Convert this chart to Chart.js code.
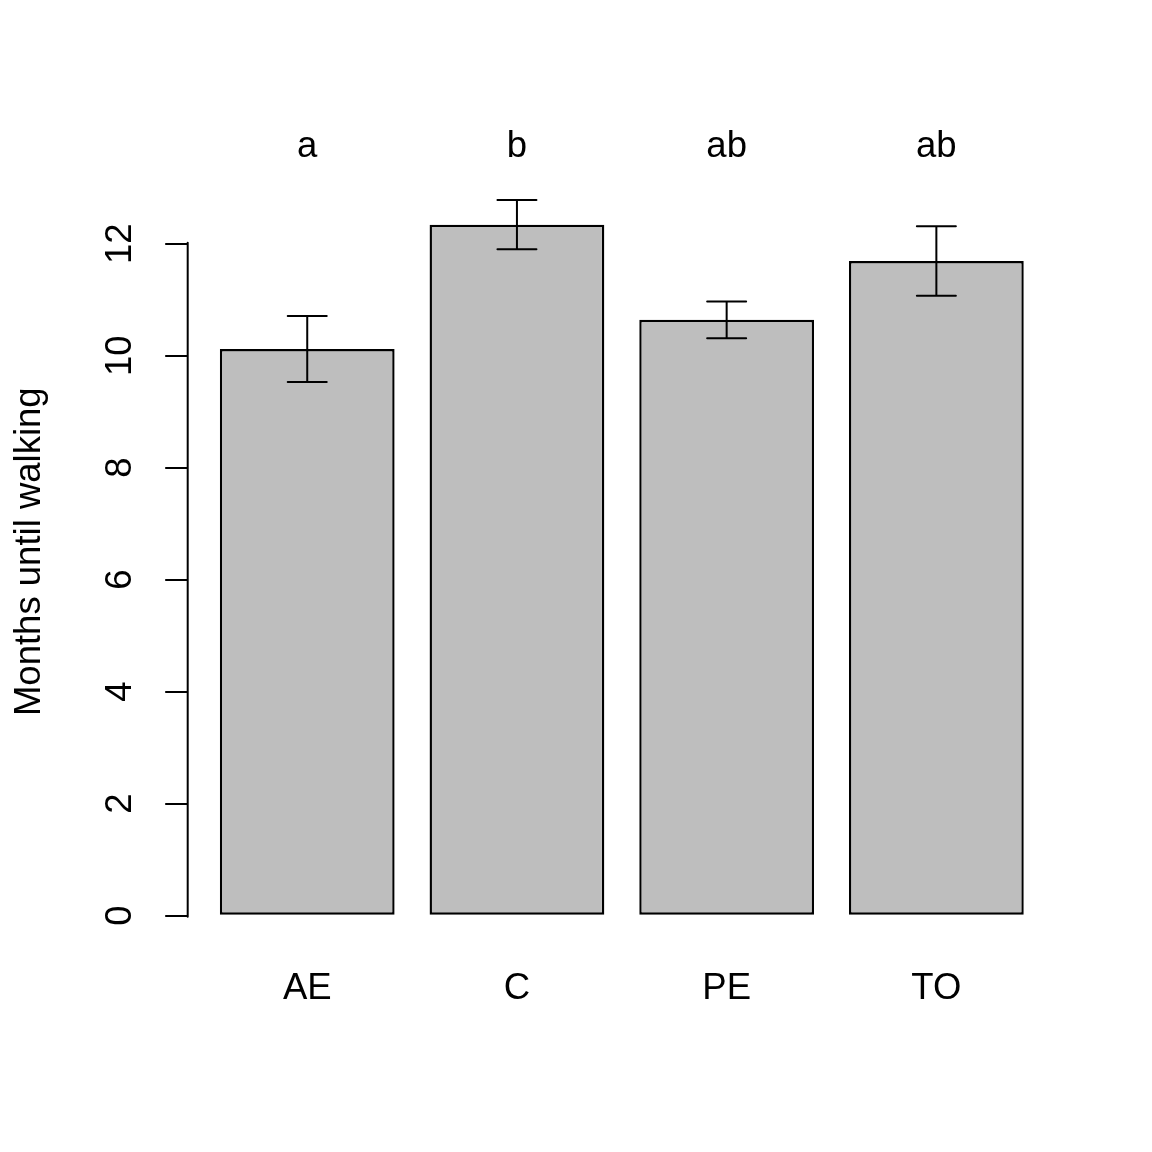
<!DOCTYPE html>
<html><head><meta charset="utf-8">
<script src="https://cdn.jsdelivr.net/npm/chart.js@4/dist/chart.umd.min.js"></script>
<style>html,body{margin:0;padding:0;background:#fff}canvas{display:block}</style>
</head><body>
<canvas id="c" width="1152" height="1152" style="width:1152px;height:1152px"></canvas>
<script>
const categories = ['AE', 'C', 'PE', 'TO'];
const means = [10.12, 12.34, 10.64, 11.69];
const stdErrors = [0.59, 0.44, 0.33, 0.62];
const groupLetters = ['a', 'b', 'ab', 'ab'];
const yTicks = [0, 2, 4, 6, 8, 10, 12];
const yTitle = 'Months until walking';
// R barplot positions: width 1, space 0.2
const barCenters = categories.map((_, i) => 0.7 + 1.2 * i);

const FONT = '"Liberation Sans", Arial, sans-serif';
const FS = 36.5;

const rStyle = {
  id: 'rStyle',
  afterDatasetsDraw(chart) {
    const { ctx, scales: { x, y }, chartArea } = chart;
    ctx.save();
    ctx.strokeStyle = '#000';
    ctx.lineWidth = 2;
    ctx.lineCap = 'round';
    // error bars
    means.forEach((m, i) => {
      const px = x.getPixelForValue(barCenters[i]);
      const top = y.getPixelForValue(m + stdErrors[i]);
      const bot = y.getPixelForValue(m - stdErrors[i]);
      const hw = 19.5;
      ctx.beginPath();
      ctx.moveTo(px, top); ctx.lineTo(px, bot);
      ctx.moveTo(px - hw, top); ctx.lineTo(px + hw, top);
      ctx.moveTo(px - hw, bot); ctx.lineTo(px + hw, bot);
      ctx.stroke();
    });
    // y axis line (only over tick range, R style)
    const lx = chartArea.left;
    ctx.beginPath();
    ctx.moveTo(lx, y.getPixelForValue(yTicks[0]) + 1);
    ctx.lineTo(lx, y.getPixelForValue(yTicks[yTicks.length - 1]) - 1);
    ctx.stroke();
    // y tick labels (rotated, parallel to axis)
    ctx.font = FS + 'px ' + FONT;
    ctx.fillStyle = '#000';
    ctx.textAlign = 'center';
    ctx.textBaseline = 'middle';
    yTicks.forEach(v => {
      ctx.save();
      ctx.translate(120.7, y.getPixelForValue(v));
      ctx.rotate(-Math.PI / 2);
      ctx.fillText(String(v), 0, 0);
      ctx.restore();
    });
    // y title
    ctx.save();
    ctx.translate(30.1, (chartArea.top + chartArea.bottom) / 2);
    ctx.rotate(-Math.PI / 2);
    ctx.fillText(yTitle, 0, 0);
    ctx.restore();
    ctx.restore();
  }
};

function setCenters(scale) {
  scale.ticks = barCenters.map(v => ({ value: v }));
}

new Chart(document.getElementById('c'), {
  type: 'bar',
  data: {
    datasets: [{
      data: categories.map((c, i) => ({ x: barCenters[i], y: means[i] })),
      backgroundColor: '#BEBEBE',
      borderColor: '#000',
      borderWidth: 2.4,
      borderSkipped: false,
      categoryPercentage: 1,
      barPercentage: 1 / 1.2
    }]
  },
  options: {
    responsive: false,
    animation: false,
    devicePixelRatio: 1,
    layout: { padding: { left: 0, top: 0, right: 96.1, bottom: 0 } },
    plugins: { legend: { display: false }, tooltip: { enabled: false } },
    scales: {
      x: {
        type: 'linear', position: 'bottom', min: 0.016, max: 4.984, offset: false,
        afterBuildTicks: setCenters,
        afterFit(s) { s.height = 1152 - 915.7; },
        grid: { display: false, drawTicks: false, offset: false },
        border: { display: false },
        ticks: {
          autoSkip: false, maxRotation: 0, minRotation: 0, padding: 51.8,
          color: '#000', font: { family: FONT, size: FS },
          callback: (v, i) => categories[i]
        }
      },
      x2: {
        type: 'linear', position: 'top', min: 0.016, max: 4.984, offset: false,
        afterBuildTicks: setCenters,
        afterFit(s) { s.height = 187.7; },
        grid: { display: false, drawTicks: false, offset: false },
        border: { display: false },
        ticks: {
          autoSkip: false, maxRotation: 0, minRotation: 0, padding: 18.6,
          color: '#000', font: { family: FONT, size: FS },
          callback: (v, i) => groupLetters[i]
        }
      },
      y: {
        type: 'linear', position: 'left', min: 0, max: 13,
        afterBuildTicks(s) { s.ticks = yTicks.map(v => ({ value: v })); },
        afterFit(s) { s.width = 187.7; },
        grid: { display: true, drawOnChartArea: false, drawTicks: true, tickLength: 22.5, color: '#000', lineWidth: 2 },
        border: { display: false },
        ticks: { display: false, includeBounds: false }
      }
    }
  },
  plugins: [rStyle]
});
</script>
</body></html>
